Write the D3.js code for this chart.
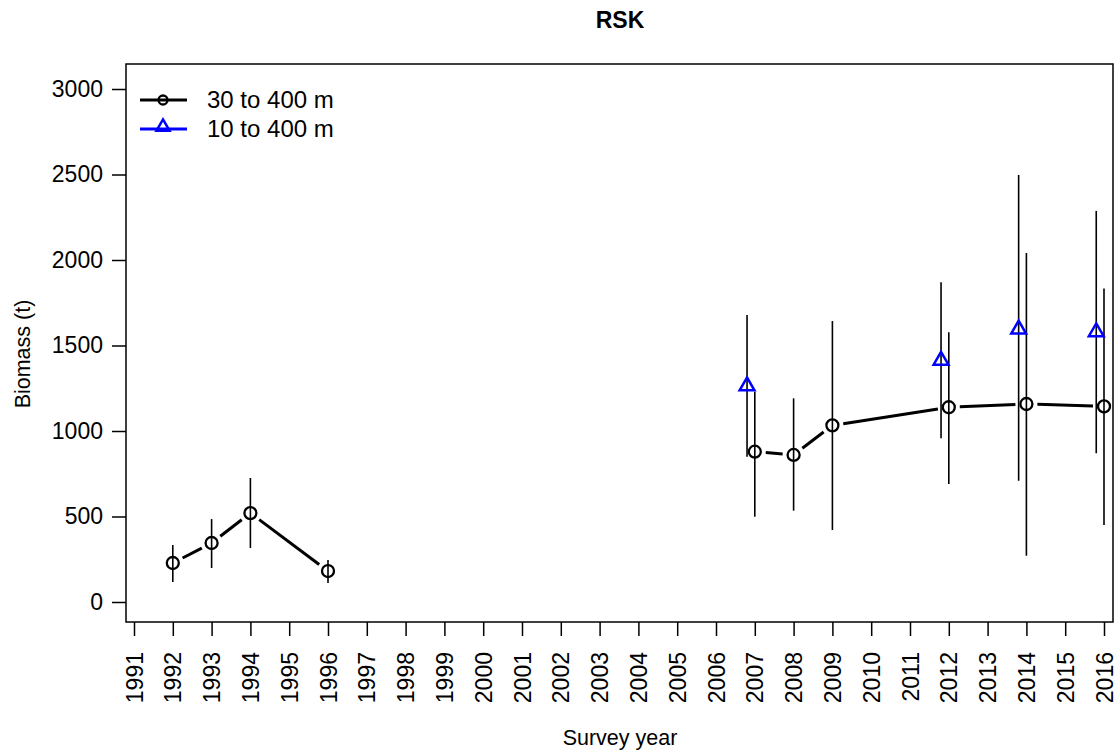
<!DOCTYPE html>
<html><head><meta charset="utf-8">
<script src="https://cdn.jsdelivr.net/npm/d3@7"></script>
<style>body{margin:0;background:#fff}svg{display:block}text{font-family:"Liberation Sans",Arial,sans-serif}</style>
</head><body><svg id="c" width="1115" height="752"></svg>
<script>
// Data
const years = [1991,1992,1993,1994,1995,1996,1997,1998,1999,2000,2001,2002,2003,2004,2005,2006,2007,2008,2009,2010,2011,2012,2013,2014,2015,2016];
const yTicks = [0,500,1000,1500,2000,2500,3000];
// 30 to 400 m (circles)
const circYear = [1992,1993,1994,1996,2007,2008,2009,2012,2014,2016];
const circVal  = [228,345,520,181,879,860,1033,1139,1158,1144];
const circLo   = [117,199,316,111,499,534,421,690,271,450];
const circHi   = [333,485,725,246,1230,1191,1643,1577,2041,1834];
// 10 to 400 m (triangles), plotted with a small offset
const triYear = [2006.8,2011.8,2013.8,2015.8];
const triVal  = [1269,1419,1601,1585];
const triLo   = [850,957,709,870];
const triHi   = [1678,1870,2497,2287];
const seriesNames = ["30 to 400 m","10 to 400 m"];

const svg = d3.select("#c");
const box = {l:126, r:1113, t:64, b:622};
const x = d3.scaleLinear().domain([1991,2016]).range([134,1104]);
const y = d3.scaleLinear().domain([0,3000]).range([602,89]);

// error bars
const eb = svg.append("g").attr("stroke","#000").attr("stroke-width",1.6);
circYear.forEach((yr,i)=>eb.append("line").attr("x1",x(yr)).attr("x2",x(yr)).attr("y1",y(circLo[i])).attr("y2",y(circHi[i])));
triYear.forEach((yr,i)=>eb.append("line").attr("x1",x(yr)).attr("x2",x(yr)).attr("y1",y(triLo[i])).attr("y2",y(triHi[i])));

// connecting lines with gaps (type "b")
const segs = [[0,1],[1,2],[2,3],[4,5],[5,6],[6,7],[7,8],[8,9]];
const gap = 11;
const lg = svg.append("g").attr("stroke","#000").attr("stroke-width",3);
segs.forEach(([a,b])=>{
  const x1=x(circYear[a]), y1=y(circVal[a]), x2=x(circYear[b]), y2=y(circVal[b]);
  const d=Math.hypot(x2-x1,y2-y1), ux=(x2-x1)/d, uy=(y2-y1)/d;
  if(d>2*gap) lg.append("line").attr("x1",x1+ux*gap).attr("y1",y1+uy*gap).attr("x2",x2-ux*gap).attr("y2",y2-uy*gap);
});

// circles
svg.append("g").selectAll("circle").data(circYear).join("circle")
  .attr("cx",d=>x(d)).attr("cy",(d,i)=>y(circVal[i])).attr("r",6)
  .attr("fill","none").attr("stroke","#000").attr("stroke-width",2.3);

// triangles
const tri = d3.symbol().type(d3.symbolTriangle).size(95);
svg.append("g").selectAll("path").data(triYear).join("path")
  .attr("d",tri).attr("transform",(d,i)=>`translate(${x(d)},${y(triVal[i])+1})`)
  .attr("fill","none").attr("stroke","#0000ff").attr("stroke-width",2.5);

// box
svg.append("rect").attr("x",box.l).attr("y",box.t).attr("width",box.r-box.l).attr("height",box.b-box.t)
  .attr("fill","none").attr("stroke","#000").attr("stroke-width",1.5);

// y axis
const ya = svg.append("g").attr("transform",`translate(${box.l},0)`)
  .call(d3.axisLeft(y).tickValues(yTicks).tickSize(14).tickPadding(9).tickFormat(d3.format("d")));
ya.select(".domain").remove();
ya.selectAll("line").attr("stroke-width",1.5);
ya.selectAll("text").attr("font-size",23).attr("fill","#000").attr("font-family","Liberation Sans, Arial, sans-serif");

// x axis
const xa = svg.append("g").attr("transform",`translate(0,${box.b})`)
  .call(d3.axisBottom(x).tickValues(years).tickSize(14).tickFormat(d3.format("d")));
xa.select(".domain").remove();
xa.selectAll("line").attr("stroke-width",1.5);
xa.selectAll("text").attr("font-size",23).attr("fill","#000").attr("font-family","Liberation Sans, Arial, sans-serif")
  .attr("transform","rotate(-90)").attr("text-anchor","end").attr("dy","0.35em").attr("x",-30).attr("y",0);

// titles
svg.append("text").attr("x",620).attr("y",28).attr("text-anchor","middle").attr("font-weight","bold").attr("font-size",23).text("RSK");
svg.append("text").attr("x",620).attr("y",745).attr("text-anchor","middle").attr("font-size",21.5).text("Survey year");
svg.append("text").attr("transform","translate(30,354) rotate(-90)").attr("text-anchor","middle").attr("font-size",21.5).text("Biomass (t)");

// legend
const leg = svg.append("g");
const ly = [100,129];
leg.append("line").attr("x1",140).attr("x2",187).attr("y1",ly[0]).attr("y2",ly[0]).attr("stroke","#000").attr("stroke-width",3);
leg.append("circle").attr("cx",163).attr("cy",ly[0]).attr("r",4.5).attr("fill","none").attr("stroke","#000").attr("stroke-width",2.3);
leg.append("line").attr("x1",140).attr("x2",187).attr("y1",ly[1]).attr("y2",ly[1]).attr("stroke","#0000ff").attr("stroke-width",3);
leg.append("path").attr("d",d3.symbol().type(d3.symbolTriangle).size(75)).attr("transform",`translate(163,${ly[1]-2})`).attr("fill","none").attr("stroke","#0000ff").attr("stroke-width",2.5);
seriesNames.forEach((n,i)=>leg.append("text").attr("x",207).attr("y",ly[i]).attr("dy","0.35em").attr("font-size",24).text(n));
</script></body></html>
